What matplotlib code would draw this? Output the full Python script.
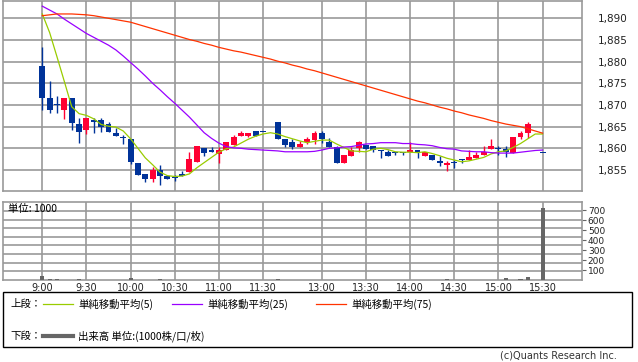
import numpy as np
import matplotlib.pyplot as plt
from matplotlib.patches import Rectangle
from matplotlib.lines import Line2D

plt.rcParams['font.family'] = ['DejaVu Sans', 'Noto Sans CJK JP']
JP = ['Noto Sans CJK JP', 'DejaVu Sans']

# 5-minute slots, one blank slot between the sessions
times = [f"{m // 60}:{m % 60:02d}" for m in range(540, 691, 5)] + [""] + \
        [f"{m // 60}:{m % 60:02d}" for m in range(750, 931, 5)]

nan = np.nan
opens = [1879.0, 1871.6, 1870.0, 1868.9, 1871.6, 1865.6, 1864.2, 1866.5, 1866.5, 1865.6,
         1863.5, 1862.4, 1862.2, 1856.7, 1854.1, 1853.0, 1855.0, 1853.6, 1853.2, 1854.1,
         1854.5, 1856.9, 1860.1, 1859.6, 1858.6, 1859.6, 1860.8, 1862.9, 1862.9, 1863.9,
         1863.9, nan, 1866.1, 1862.2, 1861.5, 1860.4, 1861.4, 1861.9, 1863.6, 1861.5,
         1860.4, 1856.5, 1858.3, 1860.0, 1860.8, 1860.5, 1859.6, 1859.2, 1859.2, 1859.1,
         1859.2, 1859.6, 1858.3, 1858.5, 1857.1, 1856.1, 1856.8, 1857.5, 1857.3, 1857.8,
         1858.5, 1859.8, 1860.0, 1859.8, 1858.9, 1862.5, 1863.5, nan, 1859.1]
highs = [1883.3, 1875.5, 1872.1, 1871.6, 1871.6, 1866.9, 1866.9, 1867.0, 1867.0, 1866.1,
         1864.8, 1863.1, 1862.2, 1856.7, 1854.1, 1855.8, 1856.2, 1853.6, 1853.9, 1854.8,
         1859.2, 1860.5, 1860.1, 1860.2, 1860.4, 1861.4, 1863.1, 1864.0, 1863.6, 1863.9,
         1863.9, nan, 1866.1, 1862.2, 1862.1, 1861.6, 1862.7, 1864.0, 1864.1, 1862.3,
         1860.6, 1858.5, 1860.4, 1861.6, 1860.8, 1860.5, 1859.6, 1859.6, 1859.2, 1859.1,
         1861.4, 1859.6, 1859.1, 1858.5, 1858.2, 1857.1, 1857.3, 1857.5, 1859.6, 1859.1,
         1860.5, 1862.2, 1860.5, 1860.5, 1862.5, 1864.1, 1866.1, nan, 1859.1]
lows = [1868.8, 1868.1, 1868.1, 1866.8, 1864.2, 1861.3, 1863.3, 1863.5, 1863.8, 1863.8,
        1862.9, 1861.0, 1856.4, 1853.9, 1852.2, 1852.2, 1851.5, 1853.0, 1852.4, 1853.5,
        1854.5, 1856.9, 1858.3, 1859.1, 1856.5, 1859.6, 1860.8, 1862.9, 1862.5, 1862.9,
        1863.9, nan, 1862.1, 1860.4, 1859.9, 1860.4, 1860.9, 1860.9, 1861.3, 1860.4,
        1856.5, 1856.5, 1858.3, 1859.1, 1859.8, 1859.1, 1857.8, 1858.3, 1858.4, 1858.4,
        1859.2, 1857.8, 1858.3, 1857.3, 1856.0, 1854.8, 1855.4, 1856.5, 1857.3, 1857.8,
        1858.5, 1859.8, 1858.5, 1857.9, 1858.9, 1862.1, 1862.3, nan, 1859.1]
closes = [1871.5, 1868.9, 1870.0, 1871.6, 1865.9, 1863.8, 1866.9, 1866.0, 1865.0, 1863.8,
          1862.9, 1862.4, 1856.9, 1853.9, 1853.0, 1855.0, 1853.5, 1853.0, 1853.2, 1853.5,
          1857.5, 1860.5, 1859.0, 1859.1, 1859.6, 1861.4, 1862.5, 1863.6, 1863.6, 1862.9,
          1863.9, nan, 1862.1, 1860.8, 1860.4, 1861.1, 1862.2, 1863.6, 1862.1, 1860.4,
          1856.5, 1858.5, 1859.6, 1861.4, 1859.8, 1859.6, 1859.4, 1858.3, 1859.0, 1859.1,
          1859.6, 1859.1, 1859.1, 1857.3, 1856.5, 1856.7, 1856.8, 1857.3, 1858.0, 1858.5,
          1859.1, 1860.5, 1860.0, 1859.1, 1862.5, 1863.6, 1865.6, nan, 1859.1]

sma5 = [1891.0, 1886.7, 1881.1, 1875.4, 1869.6, 1868.0, 1867.6, 1866.8, 1865.5, 1865.1,
        1864.9, 1864.0, 1862.2, 1860.0, 1857.8, 1856.2, 1854.5, 1853.7, 1853.5, 1853.6,
        1854.1, 1855.5, 1856.7, 1857.9, 1859.1, 1859.9, 1860.3, 1861.2, 1862.1, 1862.8,
        1863.3, 1863.6, 1863.3, 1862.7, 1862.2, 1861.7, 1861.3, 1861.6, 1861.9, 1861.9,
        1861.0, 1860.2, 1859.4, 1859.3, 1859.2, 1859.8, 1860.0, 1859.7, 1859.2, 1859.1,
        1859.1, 1859.0, 1859.2, 1858.8, 1858.3, 1857.7, 1857.3, 1856.9, 1857.1, 1857.5,
        1857.9, 1858.7, 1859.2, 1859.4, 1860.2, 1861.1, 1862.2, 1863.3, 1863.3]
sma25 = [1892.8, 1891.9, 1891.0, 1889.8, 1888.7, 1887.6, 1886.5, 1885.6, 1884.7, 1883.8,
         1882.7, 1881.3, 1879.8, 1878.3, 1876.7, 1875.0, 1873.5, 1871.9, 1870.4, 1868.8,
         1867.2, 1865.4, 1863.6, 1862.3, 1861.2, 1860.4, 1860.1, 1860.0, 1859.8, 1859.7,
         1859.6, 1859.5, 1859.4, 1859.2, 1859.2, 1859.2, 1859.2, 1859.3, 1859.6, 1860.0,
         1860.1, 1860.3, 1860.4, 1860.7, 1861.0, 1861.1, 1861.3, 1861.3, 1861.3, 1861.1,
         1861.1, 1860.9, 1860.8, 1860.6, 1860.2, 1859.9, 1859.8, 1859.4, 1859.3, 1859.2,
         1859.2, 1859.0, 1858.9, 1858.9, 1858.9, 1859.1, 1859.3, 1859.5, 1859.6]
sma75 = [1890.6, 1890.8, 1891.0, 1891.0, 1891.0, 1890.9, 1890.8, 1890.6, 1890.3, 1890.0,
         1889.7, 1889.4, 1889.1, 1888.6, 1888.1, 1887.6, 1887.1, 1886.6, 1886.1, 1885.6,
         1885.1, 1884.7, 1884.2, 1883.8, 1883.3, 1882.9, 1882.5, 1882.2, 1881.8, 1881.4,
         1881.0, 1880.6, 1880.1, 1879.7, 1879.2, 1878.8, 1878.3, 1877.9, 1877.4, 1876.9,
         1876.4, 1875.9, 1875.4, 1874.9, 1874.4, 1873.9, 1873.4, 1872.9, 1872.4, 1871.9,
         1871.4, 1870.9, 1870.5, 1870.0, 1869.5, 1869.1, 1868.6, 1868.2, 1867.7, 1867.3,
         1866.9, 1866.4, 1866.0, 1865.6, 1865.3, 1865.0, 1864.5, 1864.0, 1863.5]

volume = [45, 12, 12, 3, 3, 10, 3, 3, 3, 3, 3, 3, 22, 3, 3, 3, 10, 3, 3, 3,
          3, 3, 3, 3, 3, 3, 3, 3, 3, 3, 3, 0, 10, 3, 3, 3, 3, 3, 3, 3,
          3, 3, 3, 3, 3, 3, 3, 3, 3, 3, 3, 3, 3, 3, 3, 12, 3, 3, 3, 3,
          3, 3, 3, 25, 3, 15, 30, 0, 720]

RED = '#ff0033'
BLUE = '#003399'
GRID = '#999999'
W, H = 638, 362

fig = plt.figure(figsize=(W / 100, H / 100), dpi=100)

def px_axes(l, t, r, b):
    return fig.add_axes([l / W, 1 - b / H, (r - l) / W, (b - t) / H])

ax = px_axes(3.3, 0.7, 582.3, 190.7)
axv = px_axes(3.3, 202.3, 582.3, 280)

x = np.arange(len(times))
o = np.array(opens); h = np.array(highs); l = np.array(lows); c = np.array(closes)
col = np.where(c > o, RED, BLUE)
body = np.abs(c - o)
bottom = np.where(body < 0.22, (o + c) / 2 - 0.11, np.minimum(o, c))

ax.vlines(x, l, h, colors=col, lw=1.0, zorder=3)
ax.bar(x, np.maximum(body, 0.22), bottom=bottom, width=0.8, color=col, zorder=3)
ax.plot(x, sma5, color='#99cc00', lw=0.9, zorder=4)
ax.plot(x, sma25, color='#9900ff', lw=0.9, zorder=4)
ax.plot(x, sma75, color='#ff3300', lw=0.9, zorder=4)

axv.bar(x, volume, width=0.55, color='#666666', zorder=3)

tick_pos = [i for i, t in enumerate(times) if t.endswith((':00', ':30')) and t != '12:30']
tick_lab = [times[i] for i in tick_pos]

for a in (ax, axv):
    a.set_xlim(-5.3, 73.4)
    a.set_xticks(tick_pos)
    a.grid(True, color=GRID, lw=1.2)
    a.set_axisbelow(True)
    for s in a.spines.values():
        s.set_color(GRID)
        s.set_linewidth(1.2)
    a.yaxis.tick_right()

ax.set_ylim(1850.22, 1894.06)
ax.set_yticks(np.arange(1855, 1891, 5))
ax.set_yticklabels([f"{v:,}" for v in range(1855, 1891, 5)])
ax.tick_params(axis='y', length=0, pad=11, labelsize=7.5, labelcolor='#222222')
ax.tick_params(axis='x', length=0, labelbottom=False)

axv.set_ylim(0, 777)
axv.set_yticks(np.arange(100, 701, 100))
axv.set_yticks(np.arange(1, 9) * 777 / 9, minor=True)
axv.grid(False, axis='y', which='major')
axv.grid(True, axis='y', which='minor', color=GRID, lw=1.2)
axv.tick_params(axis='y', which='major', length=3, width=0.8, color='#666666', pad=1,
                labelsize=6.5, labelcolor='#222222')
axv.tick_params(axis='y', which='minor', length=0)
axv.set_xticklabels(tick_lab)
axv.tick_params(axis='x', length=0, pad=2, labelsize=7, labelcolor='#222222')
axv.text(0.008, 0.91, '単位: 1000', transform=axv.transAxes, fontsize=7.5,
         family=JP, va='center', ha='left', zorder=1)

# legend box below the chart
fig.patches.append(Rectangle((3 / W, 1 - 347 / H), 629 / W, 55 / H, transform=fig.transFigure,
                             fill=False, ec='black', lw=1.0))

def ftext(px, py, s, **kw):
    fig.text(px / W, 1 - py / H, s, va='center', **kw)

def fline(x0, x1, py, **kw):
    fig.add_artist(Line2D([x0 / W, x1 / W], [1 - py / H, 1 - py / H], transform=fig.transFigure, **kw))

ftext(10, 304, '上段：', fontsize=7.5, family=JP)
ma_items = [('#99cc00', '単純移動平均(5)', 43), ('#9900ff', '単純移動平均(25)', 172),
            ('#ff3300', '単純移動平均(75)', 316)]
for color, label, lx in ma_items:
    fline(lx, lx + 30, 304, color=color, lw=0.9)
    ftext(lx + 35, 304, label, fontsize=7.5, family=JP)

ftext(10, 336, '下段：', fontsize=7.5, family=JP)
fline(43, 73, 336, color='#666666', lw=3)
ftext(78, 336, '出来高 単位:(1000株/口/枚)', fontsize=7.5, family=JP)

ftext(617, 356, '(c)Quants Research Inc.', fontsize=7, color='#333333', ha='right')

fig.savefig('out.png', dpi=100)
